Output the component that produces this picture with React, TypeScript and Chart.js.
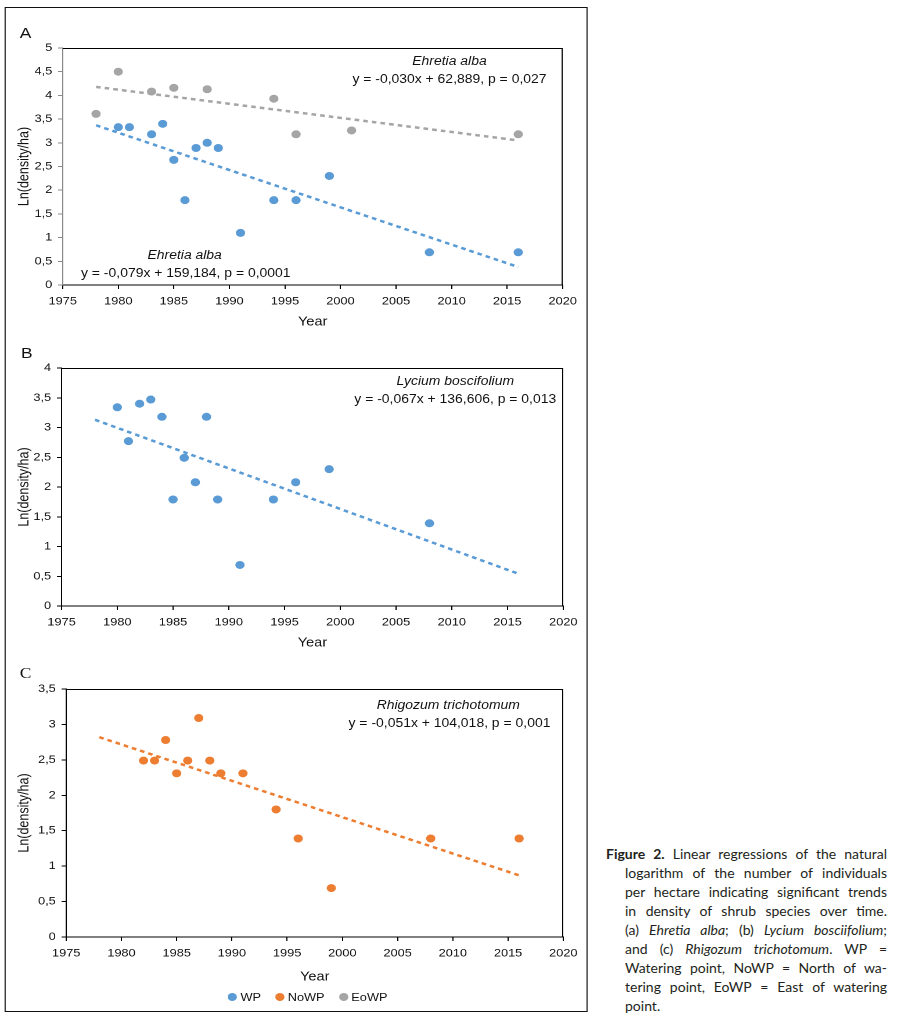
import React, { useEffect, useRef } from "react";
import { Chart, registerables } from "chart.js";

Chart.register(...registerables);

// ---------- data ----------
const xMin = 1975;
const xMax = 2020;
const xStep = 5;

// Panel A – Ehretia alba
const aWpYears = [1980, 1981, 1983, 1984, 1985, 1986, 1987, 1988, 1989, 1991, 1994, 1996, 1999, 2008, 2016];
const aWpValues = [3.33, 3.33, 3.18, 3.4, 2.64, 1.79, 2.89, 3.0, 2.89, 1.1, 1.79, 1.79, 2.3, 0.69, 0.69];
const aEoYears = [1978, 1980, 1983, 1985, 1988, 1994, 1996, 2001, 2016];
const aEoValues = [3.61, 4.5, 4.08, 4.16, 4.13, 3.93, 3.18, 3.26, 3.18];
const trendYears = [1978, 2016];
const aWpTrend = [3.37, 0.38];
const aEoTrend = [4.18, 3.05];

// Panel B – Lycium boscifolium
const bWpYears = [1980, 1981, 1982, 1983, 1984, 1985, 1986, 1987, 1988, 1989, 1991, 1994, 1996, 1999, 2008];
const bWpValues = [3.34, 2.77, 3.4, 3.47, 3.18, 1.79, 2.49, 2.08, 3.18, 1.79, 0.69, 1.79, 2.08, 2.3, 1.39];
const bWpTrend = [3.13, 0.54];

// Panel C – Rhigozum trichotomum
const cNoYears = [1982, 1983, 1984, 1985, 1986, 1987, 1988, 1989, 1991, 1994, 1996, 1999, 2008, 2016];
const cNoValues = [2.49, 2.49, 2.78, 2.31, 2.49, 3.09, 2.49, 2.31, 2.31, 1.8, 1.39, 0.69, 1.39, 1.39];
const cNoTrend = [2.82, 0.87];

const legendLabels = ["WP", "NoWP", "EoWP"];

// ---------- styles ----------
const BLUE = "#5B9BD5";
const ORANGE = "#ED7D31";
const GRAY = "#A5A5A5";
const legendColors = [BLUE, ORANGE, GRAY];
const SANS = "'Liberation Sans', Arial, sans-serif";
const STRETCH_X = 1.1614; // the reference figure is stretched horizontally

Chart.defaults.font.family = SANS;

const fmt = (v: number | string) => String(v).replace(".", ",");

const framePlugin = {
  id: "plotFrame",
  afterDraw(chart: any) {
    const { ctx, chartArea: a } = chart;
    ctx.save();
    ctx.strokeStyle = "#000";
    ctx.lineWidth = 1;
    ctx.beginPath();
    ctx.moveTo(a.left, a.top + 0.5);
    ctx.lineTo(a.right - 0.5, a.top + 0.5);
    ctx.lineTo(a.right - 0.5, a.bottom);
    ctx.stroke();
    ctx.restore();
  },
};

type Series = { label: string; years: number[]; values: number[]; color: string };
type Trend = { years: number[]; values: number[]; color: string };

interface PanelProps {
  plotLeft: number;
  plotTop: number;
  plotRight: number;
  plotBottom: number;
  yTitleCenter: number;
  xTitleCenter: number;
  yMax: number;
  yStep: number;
  yAxisColor: string;
  series: Series[];
  trends: Trend[];
}

const CANVAS_LEFT = 4;
const CANVAS_WIDTH = 500;
const PAD_TOP = 14;
const BELOW = 58;

function Panel(p: PanelProps) {
  const ref = useRef<HTMLCanvasElement>(null);
  const canvasTop = p.plotTop - PAD_TOP;
  const canvasHeight = p.plotBottom - canvasTop + BELOW;

  useEffect(() => {
    const datasets: any[] = [
      ...p.series.map((s) => ({
        type: "scatter",
        label: s.label,
        data: s.years.map((x, i) => ({ x, y: s.values[i] })),
        backgroundColor: s.color,
        borderColor: s.color,
        borderWidth: 0,
        pointRadius: 4,
        pointHoverRadius: 4,
        order: 1,
      })),
      ...p.trends.map((t) => ({
        type: "line",
        label: "trend",
        data: t.years.map((x, i) => ({ x, y: t.values[i] })),
        borderColor: t.color,
        borderWidth: 2.5,
        borderDash: [4, 3.5],
        pointRadius: 0,
        fill: false,
        tension: 0,
        order: 2,
      })),
    ];
    const yAxisWidth = p.plotLeft - CANVAS_LEFT;
    const padRight = CANVAS_LEFT + CANVAS_WIDTH - p.plotRight;
    const chart = new Chart(ref.current as HTMLCanvasElement, {
      type: "scatter",
      data: { datasets },
      options: {
        responsive: false,
        animation: false,
        devicePixelRatio: 2,
        events: [],
        layout: { padding: { left: 0, right: padRight, top: PAD_TOP, bottom: 0 } },
        plugins: { legend: { display: false }, tooltip: { enabled: false } },
        scales: {
          x: {
            type: "linear",
            min: xMin,
            max: xMax,
            ticks: {
              stepSize: xStep,
              autoSkip: false,
              maxRotation: 0,
              padding: 6,
              color: "#111",
              font: { size: 11 },
              callback: (v: any) => String(v),
            },
            grid: { drawOnChartArea: false, drawTicks: true, tickLength: 4, tickColor: "#000" },
            border: { display: true, color: "#000", width: 1 },
            title: {
              display: true,
              text: "Year",
              color: "#111",
              font: { size: 12.5 },
              padding: { top: 0, bottom: p.plotBottom + BELOW - p.xTitleCenter - 7.5 },
            },
            afterFit: (s: any) => {
              s.height = BELOW;
            },
          } as any,
          y: {
            type: "linear",
            min: 0,
            max: p.yMax,
            ticks: {
              stepSize: p.yStep,
              padding: 5,
              color: "#111",
              font: { size: 11 },
              callback: (v: any) => fmt(v),
            },
            grid: { drawOnChartArea: false, drawTicks: true, tickLength: 4, tickColor: p.yAxisColor },
            border: { display: true, color: p.yAxisColor, width: 1 },
            title: {
              display: true,
              text: "Ln(density/ha)",
              color: "#111",
              font: { size: 12.5 },
              padding: { top: p.yTitleCenter - CANVAS_LEFT - 7.5, bottom: 0 },
            },
            afterFit: (s: any) => {
              s.width = yAxisWidth;
            },
          } as any,
        },
      },
      plugins: [framePlugin],
    });
    return () => chart.destroy();
  }, []);

  return (
    <canvas
      ref={ref}
      width={CANVAS_WIDTH}
      height={canvasHeight}
      style={{
        position: "absolute",
        left: CANVAS_LEFT,
        top: canvasTop,
        width: CANVAS_WIDTH,
        height: canvasHeight,
      }}
    />
  );
}

function Txt(props: { x: number; y: number; children: any; italic?: boolean; size?: number; family?: string }) {
  return (
    <div
      style={{
        position: "absolute",
        left: props.x,
        top: props.y,
        transform: "translate(-50%, -50%)",
        whiteSpace: "nowrap",
        fontFamily: props.family || SANS,
        fontSize: props.size || 12,
        fontStyle: props.italic ? "italic" : "normal",
        color: "#111",
        lineHeight: 1,
      }}
    >
      {props.children}
    </div>
  );
}

const captionLines: any[] = [
  <>
    <b>Figure 2.</b> Linear regressions of the natural
  </>,
  <>logarithm of the number of individuals</>,
  <>per hectare indicating significant trends</>,
  <>in density of shrub species over time.</>,
  <>
    (a) <i>Ehretia alba</i>; (b) <i>Lycium bosciifolium</i>;
  </>,
  <>
    and (c) <i>Rhigozum trichotomum</i>. WP =
  </>,
  <>Watering point, NoWP = North of wa-</>,
  <>tering point, EoWP = East of watering</>,
  <>point.</>,
];

export default function App() {
  return (
    <div style={{ position: "absolute", left: 0, top: 0, width: 902, height: 1018, background: "#fff" }}>
      <div
        style={{
          position: "absolute",
          left: 0,
          top: 0,
          width: 510,
          height: 1018,
          transform: `scaleX(${STRETCH_X})`,
          transformOrigin: "0 0",
        }}
      >
        <div
          style={{
            position: "absolute",
            left: 4,
            top: 7,
            width: 502,
            height: 1005,
            boxSizing: "border-box",
            border: "1.5px solid #111",
          }}
        />
        <Panel
          plotLeft={54}
          plotTop={48}
          plotRight={484.5}
          plotBottom={285}
          yTitleCenter={21}
          xTitleCenter={322}
          yMax={5}
          yStep={0.5}
          yAxisColor="#8a8a8a"
          series={[
            { label: "WP", years: aWpYears, values: aWpValues, color: BLUE },
            { label: "EoWP", years: aEoYears, values: aEoValues, color: GRAY },
          ]}
          trends={[
            { years: trendYears, values: aEoTrend, color: GRAY },
            { years: trendYears, values: aWpTrend, color: BLUE },
          ]}
        />
        <Panel
          plotLeft={53}
          plotTop={368}
          plotRight={485}
          plotBottom={606}
          yTitleCenter={21}
          xTitleCenter={643}
          yMax={4}
          yStep={0.5}
          yAxisColor="#000"
          series={[{ label: "WP", years: bWpYears, values: bWpValues, color: BLUE }]}
          trends={[{ years: trendYears, values: bWpTrend, color: BLUE }]}
        />
        <Panel
          plotLeft={57}
          plotTop={689}
          plotRight={485}
          plotBottom={937}
          yTitleCenter={21}
          xTitleCenter={977}
          yMax={3.5}
          yStep={0.5}
          yAxisColor="#000"
          series={[{ label: "NoWP", years: cNoYears, values: cNoValues, color: ORANGE }]}
          trends={[{ years: trendYears, values: cNoTrend, color: ORANGE }]}
        />

        {/* panel letters */}
        <Txt x={22} y={32} size={15}>A</Txt>
        <Txt x={23} y={352} size={15}>B</Txt>
        <Txt x={22} y={673} size={15} family="'Liberation Serif', serif">C</Txt>

        {/* regression annotations */}
        <Txt x={387} y={61} italic>Ehretia alba</Txt>
        <Txt x={387} y={79}>y = -0,030x + 62,889, p = 0,027</Txt>
        <Txt x={159} y={255} italic>Ehretia alba</Txt>
        <Txt x={160} y={273}>y = -0,079x + 159,184, p = 0,0001</Txt>
        <Txt x={392} y={381} italic>Lycium boscifolium</Txt>
        <Txt x={392} y={399}>y = -0,067x + 136,606, p = 0,013</Txt>
        <Txt x={386} y={705} italic>Rhigozum trichotomum</Txt>
        <Txt x={387} y={723}>y = -0,051x + 104,018, p = 0,001</Txt>

        {/* legend */}
        <div
          style={{
            position: "absolute",
            left: 196,
            top: 990,
            height: 14,
            display: "flex",
            alignItems: "center",
            fontFamily: SANS,
            fontSize: 11,
            color: "#111",
            whiteSpace: "nowrap",
          }}
        >
          {legendLabels.map((l, i) => (
            <div key={l} style={{ display: "flex", alignItems: "center", marginRight: 12 }}>
              <span
                style={{
                  display: "inline-block",
                  width: 8,
                  height: 8,
                  borderRadius: 4,
                  background: legendColors[i],
                  marginRight: 3,
                }}
              />
              <span>{l}</span>
            </div>
          ))}
        </div>
      </div>

      {/* caption */}
      <div
        style={{
          position: "absolute",
          left: 606,
          top: 843.5,
          width: 281,
          fontFamily: "Lato, 'Noto Sans', sans-serif",
          fontSize: 14,
          lineHeight: "19px",
          color: "#231f20",
        }}
      >
        {captionLines.map((ln, i) => (
          <div
            key={i}
            style={{
              marginLeft: i === 0 ? 0 : 19,
              height: 19,
              textAlign: i === captionLines.length - 1 ? "left" : "justify",
              textAlignLast: i === captionLines.length - 1 ? "left" : "justify",
            }}
          >
            {ln}
          </div>
        ))}
      </div>
    </div>
  );
}
